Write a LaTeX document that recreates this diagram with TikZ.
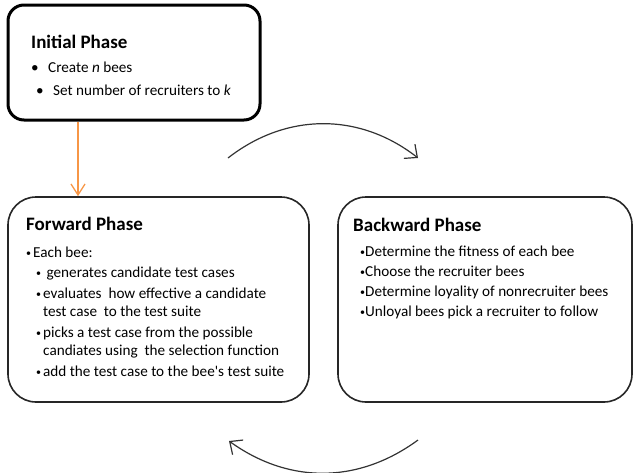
\documentclass[tikz,border=0pt]{standalone}
\usepackage{fontspec}
\setmainfont{Carlito}
\usetikzlibrary{arrows.meta}

\definecolor{startorange}{RGB}{247,150,70}

% bullets: a large one for the start box, a small one for the phase boxes
\newcommand{\bigbul}{\makebox[17pt][l]{\textbullet}}
\newcommand{\smbul}[1]{\makebox[#1][l]{\raisebox{1.2pt}{\fontsize{10}{10}\selectfont\textbullet}}}
\newcommand{\phasetitle}[1]{{\fontsize{19}{23}\selectfont\bfseries #1}}

\begin{document}
\begin{tikzpicture}[
    x=1pt, y=-1pt,
    font=\fontsize{15.2}{19.5}\selectfont,
    startbox/.style={draw=black, line width=3pt, rounded corners=16pt},
    phasebox/.style={draw=black!85, line width=1.6pt, rounded corners=28pt,
                     minimum width=#1, minimum height=205pt},
    phasetext/.style={anchor=north west, align=left, inner sep=0pt},
    cyclearrow/.style={draw=black!80, line width=1.2pt,
                       -{Straight Barb[length=10pt, width=18pt]}},
    startarrow/.style={draw=startorange, line width=1.3pt,
                       -{Straight Barb[length=11pt, width=14pt]}},
]
\useasboundingbox (0,0) rectangle (634,472);

% ============================================================
% BOXES
% ============================================================
\node[startbox, minimum width=252pt, minimum height=115pt] (init) at (134,62.5) {};
\node[phasebox=301pt] (fwd) at (158.5,299.5) {};
\node[phasebox=294pt] (bwd) at (485,299.5) {};

% ============================================================
% BOX TEXTS
% ============================================================
\node[phasetext] (inittext) at (31,34.8) {
    \phasetitle{Initial Phase}\\[4.5pt]
    \bigbul Create \textit{n} bees\\[3.5pt]
    \hspace*{5pt}\bigbul Set number of recruiters to \textit{k}
};

\node[phasetext] (fwdtext) at (26,216.8) {
    \phasetitle{Forward Phase}\\[7.5pt]
    \smbul{7pt}Each bee:\\[1pt]
    \hspace*{10pt}\smbul{7pt}\ generates candidate test cases\\[1pt]
    \hspace*{10pt}\smbul{7pt}evaluates\ \ how effective a candidate\\[-1pt]
    \hspace*{17pt}test case\ \ to the test suite\\[1pt]
    \hspace*{10pt}\smbul{7pt}picks a test case from the possible\\[-1pt]
    \hspace*{17pt}candiates using\ \ the selection function\\[1pt]
    \hspace*{10pt}\smbul{7pt}add the test case to the bee\textquotesingle s test suite
};

\node[phasetext] (bwdtext) at (353,217.8) {
    \phasetitle{Backward Phase}\\[5.5pt]
    \hspace*{7pt}\smbul{5pt}Determine the fitness of each bee\\[0.5pt]
    \hspace*{7pt}\smbul{5pt}Choose the recruiter bees\\[0.5pt]
    \hspace*{7pt}\smbul{5pt}Determine loyality of nonrecruiter bees\\[0.5pt]
    \hspace*{7pt}\smbul{5pt}Unloyal bees pick a recruiter to follow
};

% ============================================================
% ARROWS
% ============================================================
% start -> forward
\coordinate (entry) at (78,0);
\draw[startarrow] (init.south -| entry) -- (fwd.north -| entry);

% forward <-> backward cycle
\coordinate (topL) at (228,158);
\coordinate (topR) at (418,158);
\coordinate (botR) at (418,440);
\coordinate (botL) at (229,441);
\draw[cyclearrow] (topL) to[bend left=38] (topR);
\draw[cyclearrow] (botR) to[bend left=36] (botL);

\end{tikzpicture}
\end{document}
